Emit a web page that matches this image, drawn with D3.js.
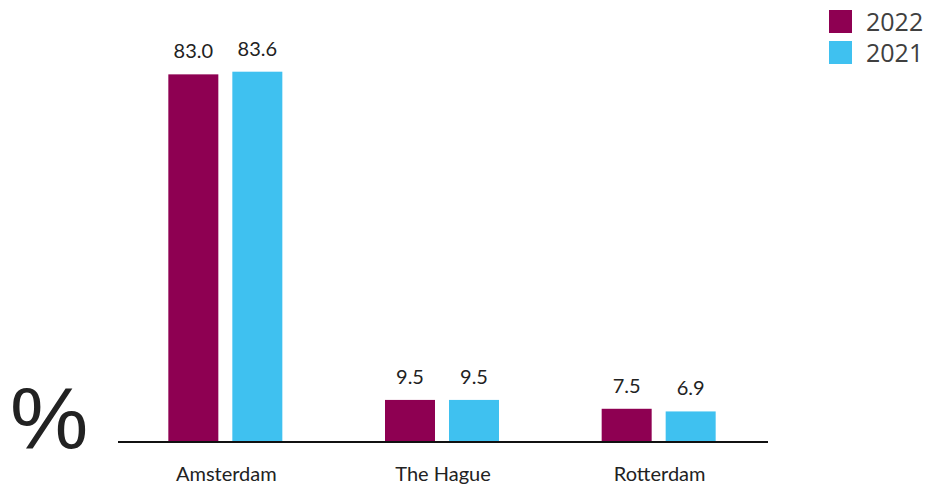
<!DOCTYPE html>
<html><head><meta charset="utf-8">
<script src="https://cdn.jsdelivr.net/npm/d3@7"></script>
<style>body{margin:0;background:#fff}svg{display:block}</style>
</head><body>
<script>
const categories = ["Amsterdam", "The Hague", "Rotterdam"];
const seriesNames = ["2022", "2021"];
const values2022 = [83.0, 9.5, 7.5];
const values2021 = [83.6, 9.5, 6.9];
const colors = ["#8E0052", "#3FC1F0"];

const W = 925, H = 489;
const svg = d3.select("body").append("svg").attr("width", W).attr("height", H);
const base = 442;
const x0 = d3.scaleBand().domain(categories).range([118, 768]);
const x1 = d3.scaleBand().domain(seriesNames).range([0, 114]).paddingInner(0.21875);
const y = d3.scaleLinear().domain([0, 83.6]).range([base, 71.7]);

const data = categories.map((c, i) => ({c, vals: [values2022[i], values2021[i]]}));
const g = svg.selectAll("g.grp").data(data).join("g")
  .attr("transform", d => `translate(${x0(d.c) + x0.bandwidth()/2 - 58},0)`);
g.selectAll("rect").data(d => d.vals.map((v, j) => ({v, s: seriesNames[j], j})))
  .join("rect")
  .attr("x", d => x1(d.s)).attr("width", x1.bandwidth())
  .attr("y", d => y(d.v)).attr("height", d => base - y(d.v))
  .attr("fill", d => colors[d.j]);
g.selectAll("text").data(d => d.vals.map((v, j) => ({v, s: seriesNames[j]})))
  .join("text")
  .attr("x", d => x1(d.s) + x1.bandwidth()/2).attr("y", d => y(d.v) - 16)
  .attr("text-anchor", "middle").attr("font-family", "Lato, sans-serif")
  .attr("font-size", 20).attr("fill", "#222").text(d => d.v.toFixed(1));

svg.append("line").attr("x1", 118).attr("x2", 768).attr("y1", base).attr("y2", base)
  .attr("stroke", "#111").attr("stroke-width", 2);

const xAxis = d3.axisBottom(x0).tickSize(0).tickPadding(0);
const ax = svg.append("g").attr("transform", `translate(0,${base})`).call(xAxis);
ax.select(".domain").remove();
ax.selectAll("text").attr("font-family", "Lato, sans-serif").attr("font-size", 20)
  .attr("fill", "#222").attr("dy", "1.95em");

svg.append("text").attr("x", 10).attr("y", 448).attr("font-family", "'Liberation Sans', Arial, sans-serif")
  .attr("font-size", 88).attr("font-weight", 300).attr("fill", "#222").text("%");

const lg = svg.selectAll("g.lg").data(seriesNames).join("g")
  .attr("transform", (d, i) => `translate(829,${10 + i * 31})`);
lg.append("rect").attr("width", 23).attr("height", 23).attr("fill", (d, i) => colors[i]);
lg.append("text").attr("x", 37).attr("y", 21).attr("font-family", "'Open Sans', sans-serif")
  .attr("font-size", 25).attr("fill", "#404040").text(d => d);
</script>
</body></html>
